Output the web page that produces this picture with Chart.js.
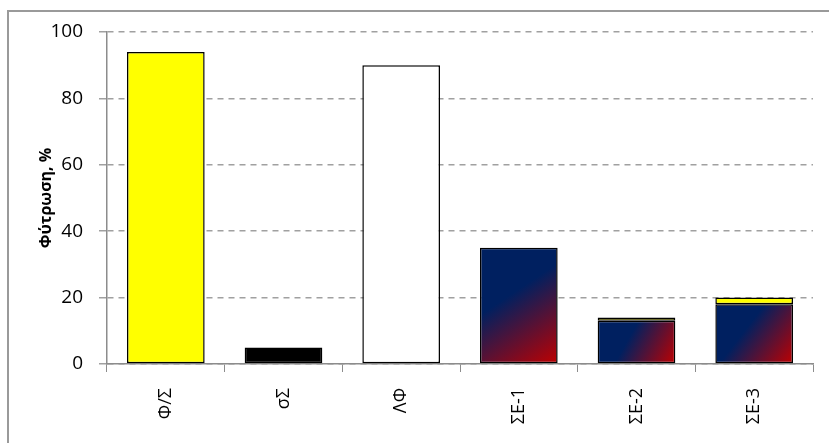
<!DOCTYPE html>
<html>
<head>
<meta charset="utf-8">
<script src="https://cdn.jsdelivr.net/npm/chart.js@4.4.1/dist/chart.umd.min.js"></script>
<style>
  html, body { margin: 0; padding: 0; background: #fff; }
  #wrap { width: 829px; height: 443px; position: relative; }
</style>
</head>
<body>
<div id="wrap"><canvas id="graphCanvas"></canvas></div>
<script>
// data
var categories = ["Φ/Σ", "σΣ", "ΛΦ", "ΣΕ-1", "ΣΕ-2", "ΣΕ-3"];
var mainValues = [94, 5, 90, 35, 13, 18];
var topValues  = [0, 0, 0, 0, 1, 2];
var yTicks = [0, 20, 40, 60, 80, 100];
var yTitle = "Φύτρωση, %";

var fills = ["#ffff00", "#000000", "#ffffff", "grad", "grad", "grad"];
var barPct = 0.66;

function barFill(context) {
    var f = fills[context.dataIndex];
    if (f !== "grad") return f;
    var chart = context.chart;
    var xs = chart.scales.x, ys = chart.scales.y;
    if (!xs || !ys || !chart.chartArea) return "#002060";
    var cx = xs.getPixelForValue(context.dataIndex);
    var w = (xs.width / categories.length) * barPct;
    var y0 = ys.getPixelForValue(mainValues[context.dataIndex]);
    var y1 = ys.getPixelForValue(0);
    if (!isFinite(cx) || !isFinite(y0) || !isFinite(y1)) return "#002060";
    var g = chart.ctx.createLinearGradient(cx - w / 2, y0, cx + w / 2, y1);
    g.addColorStop(0, "#002060");
    g.addColorStop(0.4, "#002060");
    g.addColorStop(1, "#c00000");
    return g;
}

var frame = {
    id: "frame",
    afterDraw: function(chart){
        var c = chart.ctx;
        c.save();
        c.strokeStyle = "#9a9a9a";
        c.lineWidth = 2;
        c.beginPath();
        c.moveTo(8, 443);
        c.lineTo(8, 11);
        c.lineTo(829, 11);
        c.stroke();
        c.restore();
    }
};

var chartdata = {
    labels: categories,
    datasets: [
        {
            label: "main",
            data: mainValues,
            backgroundColor: barFill,
            borderColor: "#000000",
            borderWidth: 1.5,
            borderSkipped: false
        },
        {
            label: "top",
            data: topValues,
            backgroundColor: "#ffff00",
            borderColor: "#000000",
            borderWidth: 1.5,
            borderSkipped: false
        }
    ]
};

var font = "'Open Sans', 'Liberation Sans', sans-serif";
var ctx = document.getElementById("graphCanvas");
var barGraph = new Chart(ctx, {
    type: "bar",
    data: chartdata,
    plugins: [frame],
    options: {
        responsive: true,
        maintainAspectRatio: false,
        animation: false,
        layout: { padding: { left: 28, right: 16, top: 32, bottom: 9 } },
        plugins: {
            legend: { display: false },
            tooltip: { enabled: false }
        },
        datasets: { bar: { categoryPercentage: 1, barPercentage: barPct } },
        scales: {
            x: {
                stacked: true,
                grid: {
                    offset: true,
                    drawOnChartArea: false,
                    drawTicks: true,
                    tickLength: 8,
                    color: "#8c8c8c"
                },
                border: { color: "#8c8c8c", width: 1.5 },
                ticks: {
                    minRotation: 90,
                    maxRotation: 90,
                    padding: 16,
                    color: "#000",
                    font: { family: font, size: 18 }
                },
                afterFit: function(scale){ scale.height = 70; }
            },
            y: {
                stacked: true,
                min: 0,
                max: 100,
                afterBuildTicks: function(scale){
                    scale.ticks = yTicks.map(function(v){ return { value: v }; });
                },
                grid: {
                    color: "#a0a0a0",
                    lineWidth: 1.5,
                    tickLength: 8,
                    tickBorderDash: [0, 0]
                },
                border: { display: true, color: "#8c8c8c", width: 1.5, dash: [6, 5] },
                ticks: {
                    padding: 16,
                    color: "#000",
                    font: { family: font, size: 19 }
                },
                title: {
                    display: true,
                    text: yTitle,
                    color: "#000",
                    padding: { top: 9, bottom: 0 },
                    font: { family: font, size: 16, weight: "bold" }
                },
                afterFit: function(scale){ scale.width = 79; }
            }
        }
    }
});
</script>
</body>
</html>
